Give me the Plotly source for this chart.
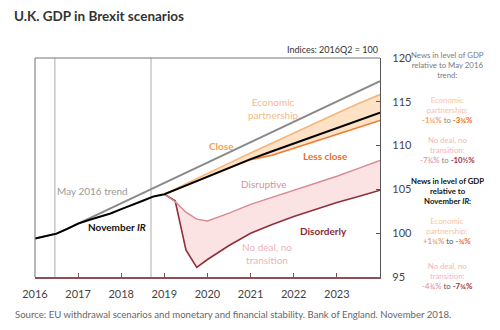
import plotly.graph_objects as go

# ---------------- data ----------------
hist_t = [2016.0, 2016.25, 2016.5, 2016.75, 2017.0, 2017.25, 2017.5, 2017.75,
          2018.0, 2018.25, 2018.5, 2018.75]
hist_gdp = [99.4, 99.7, 99.95, 100.5, 101.1, 101.5, 101.85, 102.25,
            102.75, 103.2, 103.7, 104.2]

trend_t = [2016.0, 2016.25, 2016.5, 2017.0, 2024.0]
trend_gdp = [99.4, 99.7, 99.95, 101.1, 117.36]

proj_t = [2019.0, 2019.25, 2019.5, 2019.75, 2020.0, 2020.5, 2021.0, 2021.5,
          2022.0, 2022.5, 2023.0, 2023.5, 2024.0]
nov_ir = [104.45, 104.95, 105.45, 105.95, 106.45, 107.45, 108.45, 109.35,
          110.25, 111.15, 112.05, 112.9, 113.76]
close = [104.45, 105.05, 105.65, 106.25, 106.85, 108.0, 109.15, 110.3,
         111.45, 112.6, 113.7, 114.8, 115.83]
less_close = [104.45, 104.95, 105.45, 105.95, 106.45, 107.45, 108.4, 108.9,
              109.7, 110.5, 111.3, 112.1, 112.87]
disruptive = [104.45, 103.6, 102.4, 101.6, 101.4, 102.3, 103.3, 104.1,
              104.9, 105.7, 106.5, 107.4, 108.3]
disorderly = [104.45, 103.7, 98.1, 96.1, 97.0, 98.6, 100.0, 101.0,
              101.9, 102.7, 103.5, 104.2, 104.9]

event_dates = [2016.46, 2018.69]
year_ticks = [2016, 2017, 2018, 2019, 2020, 2021, 2022, 2023]
y_ticks = [95, 100, 105, 110, 115, 120]

# ---------------- figure ----------------
FONT = "Lato"
fig = go.Figure()

# shaded ranges
fig.add_trace(go.Scatter(x=proj_t + proj_t[::-1], y=close + less_close[::-1],
                         fill="toself", fillcolor="#fde2c6", mode="none",
                         hoverinfo="skip", showlegend=False))
fig.add_trace(go.Scatter(x=proj_t + proj_t[::-1], y=disruptive + disorderly[::-1],
                         fill="toself", fillcolor="#fbe3e4", mode="none",
                         hoverinfo="skip", showlegend=False))

def line(x, y, color, width):
    fig.add_trace(go.Scatter(x=x, y=y, mode="lines",
                             line=dict(color=color, width=width),
                             showlegend=False, hoverinfo="skip"))

line(trend_t, trend_gdp, "#8a8a8a", 2)
line(proj_t, disorderly, "#8e2f3b", 1.6)
line(proj_t, disruptive, "#d98a92", 1.4)
line(proj_t, close, "#f8b57a", 1.6)
line(proj_t, less_close, "#ef7a30", 1.6)
line(hist_t + proj_t, hist_gdp + nov_ir, "#000000", 2)

for d in event_dates:
    fig.add_vline(x=d, line=dict(color="#c8c8c8", width=1.5), layer="below")

# frame lines (top, left)
fig.add_shape(type="line", xref="paper", yref="paper", x0=0, x1=1, y0=1, y1=1,
              line=dict(color="#777777", width=1.2))
fig.add_shape(type="line", xref="paper", yref="paper", x0=0, x1=0, y0=0, y1=1,
              line=dict(color="#888888", width=1.2))

def ann(x, y, text, color, size=10, bold=False, xref="x", yref="y",
        xanchor="center", yanchor="middle", align="center"):
    if bold:
        text = "<b>" + text + "</b>"
    fig.add_annotation(x=x, y=y, xref=xref, yref=yref, text=text, showarrow=False,
                       font=dict(family=FONT, size=size, color=color),
                       xanchor=xanchor, yanchor=yanchor, align=align)

# in-plot labels
ann(2017.33, 104.83, "May 2016 trend", "#9a9a9a", 10)
ann(2017.89, 100.72, "November <i>IR</i>", "#111111", 10, bold=True)
ann(2020.32, 110.0, "Close", "#f4a25a", 10, bold=True)
ann(2021.54, 114.2, "Economic<br>partnership", "#f6b98a", 10)
ann(2022.74, 108.77, "Less close", "#ec6e2c", 10, bold=True)
ann(2021.3, 105.63, "Disruptive", "#d9909a", 10)
ann(2022.7, 100.2, "Disorderly", "#8b2a35", 10, bold=True)
ann(2021.38, 97.7, "No deal, no<br>transition", "#eeb3b8", 10)

# right-hand commentary column
RX = 1.195
S = 7.8
ann(RX, 0.968, "News in level of GDP<br>relative to May 2016<br>trend:", "#7a7a7a", S,
    xref="paper", yref="paper")
ann(RX, 0.763, "Economic<br>partnership:<br>"
    "<b><span style='color:#f5a060'>-1¼%</span></b> "
    "<span style='color:#888888'>to</span> "
    "<b><span style='color:#ec6a20'>-3¾%</span></b>", "#f8c59c", S,
    xref="paper", yref="paper")
ann(RX, 0.582, "No deal, no<br>transition:<br>"
    "<span style='color:#e08890'>-7¾%</span> "
    "<span style='color:#888888'>to</span> "
    "<b><span style='color:#a0303f'>-10½%</span></b>", "#f0b8bc", S,
    xref="paper", yref="paper")
ann(RX, 0.394, "News in level of GDP<br>relative to<br>November <i>IR</i>:", "#111111", S,
    bold=True, xref="paper", yref="paper")
ann(RX, 0.211, "Economic<br>partnership:<br>"
    "<b><span style='color:#f5a060'>+1¾%</span></b> "
    "<span style='color:#555555'>to</span> "
    "<b><span style='color:#ec6a20'>-¾%</span></b>", "#f8c59c", S,
    xref="paper", yref="paper")
ann(RX, 0.005, "No deal, no<br>transition:<br>"
    "<span style='color:#e08890'>-4¾%</span> "
    "<span style='color:#555555'>to</span> "
    "<b><span style='color:#a0303f'>-7¾%</span></b>", "#f0b8bc", S,
    xref="paper", yref="paper")

# title, units, source
ann(-0.0667, 1.192, "U.K. GDP in Brexit scenarios", "#333333", 13.5, bold=True,
    xref="paper", yref="paper", xanchor="left")
ann(1.0, 1.037, "Indices: 2016Q2 = 100", "#333333", 9, xref="paper", yref="paper",
    xanchor="right")
ann(-0.064, -0.1735, "Source: EU withdrawal scenarios and monetary and financial stability. "
    "Bank of England. November 2018.", "#666666", 9.6, xref="paper", yref="paper",
    xanchor="left")

fig.update_layout(
    width=500, height=330,
    margin=dict(l=35, r=120, t=58, b=53),
    paper_bgcolor="white", plot_bgcolor="white",
    font=dict(family=FONT, color="#444444"),
    showlegend=False,
    xaxis=dict(range=[2016, 2024], tickvals=year_ticks,
               ticktext=[str(y) for y in year_ticks],
               ticks="inside", ticklen=4, tickcolor="#8c5050",
               showline=True, linecolor="#8c5050", linewidth=1.5,
               showgrid=False, zeroline=False, ticklabelstandoff=6,
               tickfont=dict(family=FONT, size=11, color="#444444")),
    yaxis=dict(range=[95, 120], tickvals=y_ticks, side="right",
               ticks="inside", ticklen=4, tickcolor="#555555",
               showline=True, linecolor="#555555", linewidth=1.2,
               showgrid=False, zeroline=False, ticklabelstandoff=9,
               tickfont=dict(family=FONT, size=11, color="#444444")),
)

fig.write_html("out.html")
